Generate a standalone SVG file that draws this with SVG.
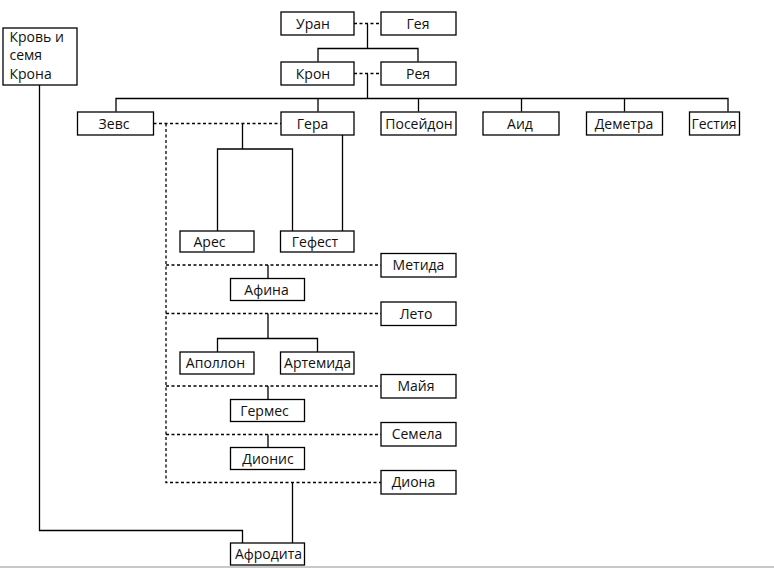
<svg xmlns="http://www.w3.org/2000/svg" width="774" height="568" viewBox="0 0 774 568">
<style>
.box{fill:#fff;stroke:#000;stroke-width:1.3}
.t{font-family:"Open Sans","Liberation Sans",sans-serif;font-size:14px;fill:#111;text-anchor:middle}
.tl{font-family:"Open Sans","Liberation Sans",sans-serif;font-size:14px;fill:#111}
.ln{fill:none;stroke:#000;stroke-width:1.3}
.ds{fill:none;stroke:#000;stroke-width:1.3;stroke-dasharray:3 2.5}
</style>
<rect width="774" height="568" fill="#fff"/>
<g id="connectors">
<path class="ds" d="M354 23.5H381"/>
<path class="ln" d="M367.5 23.5V48.5M318 61.5V48.5H418V61.5"/>
<path class="ds" d="M354 73.5H381"/>
<path class="ln" d="M367.5 73.5V98.5M116 111.5V98.5H728V111.5M318 98.5V111.5M418.5 98.5V111.5M521.5 98.5V111.5M624.5 98.5V111.5"/>
<path class="ds" d="M153.5 123.5H281M166 123.5V482.5H381M166 265H381M166 313.5H381M166 386H381M166 434.5H381"/>
<path class="ln" d="M242.5 123.5V149H217.5V231M242.5 149H292.5V231M342.5 135V231"/>
<path class="ln" d="M268 265V278"/>
<path class="ln" d="M268 313.5V338.5H217.5V352M268 338.5H317.5V352"/>
<path class="ln" d="M268 386V399M268 434.5V447"/>
<path class="ln" d="M292.5 482.5V543M39.5 85V530.5H242.5V543"/>
</g>
<g id="krov"><rect class="box" x="3" y="28" width="74" height="57"/><text class="tl" x="9.5" y="41.5">Кровь и</text><text class="tl" x="9.5" y="60">семя</text><text class="tl" x="9.5" y="79">Крона</text></g>
<g id="uran"><rect class="box" x="281" y="12" width="73" height="23"/><text class="t" x="313" y="28.5">Уран</text></g>
<g id="geya"><rect class="box" x="381" y="12" width="75" height="23"/><text class="t" x="418" y="28.5">Гея</text></g>
<g id="kron"><rect class="box" x="281" y="62" width="73" height="23"/><text class="t" x="313" y="78.5">Крон</text></g>
<g id="reya"><rect class="box" x="381" y="62" width="75" height="23"/><text class="t" x="418" y="78.5">Рея</text></g>
<g id="zevs"><rect class="box" x="77.5" y="112" width="76" height="23"/><text class="t" x="114" y="128.5">Зевс</text></g>
<g id="gera"><rect class="box" x="281" y="112" width="73" height="23"/><text class="t" x="312.5" y="128.5">Гера</text></g>
<g id="poseidon"><rect class="box" x="381" y="112" width="75" height="23"/><text class="t" x="419" y="128.5">Посейдон</text></g>
<g id="aid"><rect class="box" x="483" y="112" width="76" height="23"/><text class="t" x="520" y="128.5">Аид</text></g>
<g id="demetra"><rect class="box" x="586.5" y="112" width="76" height="23"/><text class="t" x="624" y="128.5">Деметра</text></g>
<g id="gestiya"><rect class="box" x="689.5" y="112" width="50" height="23"/><text class="t" x="714" y="128.5">Гестия</text></g>
<g id="ares"><rect class="box" x="180" y="231" width="74" height="21"/><text class="t" x="209.5" y="246.5">Арес</text></g>
<g id="gefest"><rect class="box" x="280.5" y="231" width="73.5" height="21"/><text class="t" x="315" y="246.5">Гефест</text></g>
<g id="metida"><rect class="box" x="381" y="253.5" width="75" height="23.5"/><text class="t" x="418.5" y="270">Метида</text></g>
<g id="afina"><rect class="box" x="230.5" y="278.5" width="74" height="22"/><text class="t" x="266.5" y="294.5">Афина</text></g>
<g id="leto"><rect class="box" x="381" y="302" width="75" height="23.5"/><text class="t" x="416" y="318.5">Лето</text></g>
<g id="apollon"><rect class="box" x="180" y="352" width="74" height="22"/><text class="t" x="215.5" y="368">Аполлон</text></g>
<g id="artemida"><rect class="box" x="280.5" y="352" width="73.5" height="22"/><text class="t" x="317.5" y="368">Артемида</text></g>
<g id="maiya"><rect class="box" x="381" y="374.5" width="75" height="23.5"/><text class="t" x="416" y="391">Майя</text></g>
<g id="germes"><rect class="box" x="230.5" y="399.5" width="74" height="22"/><text class="t" x="264.5" y="415.5">Гермес</text></g>
<g id="semela"><rect class="box" x="381" y="422.5" width="75" height="23.5"/><text class="t" x="417" y="439">Семела</text></g>
<g id="dionis"><rect class="box" x="230.5" y="447.5" width="74" height="22"/><text class="t" x="268" y="463.5">Дионис</text></g>
<g id="diona"><rect class="box" x="381" y="470.5" width="75" height="23.5"/><text class="t" x="413.5" y="487">Диона</text></g>
<g id="afrodita"><rect class="box" x="230.5" y="543" width="74" height="22"/><text class="t" x="268.5" y="559">Афродита</text></g>
<rect x="0" y="566" width="774" height="2" fill="#c8c8c8"/>
</svg>
